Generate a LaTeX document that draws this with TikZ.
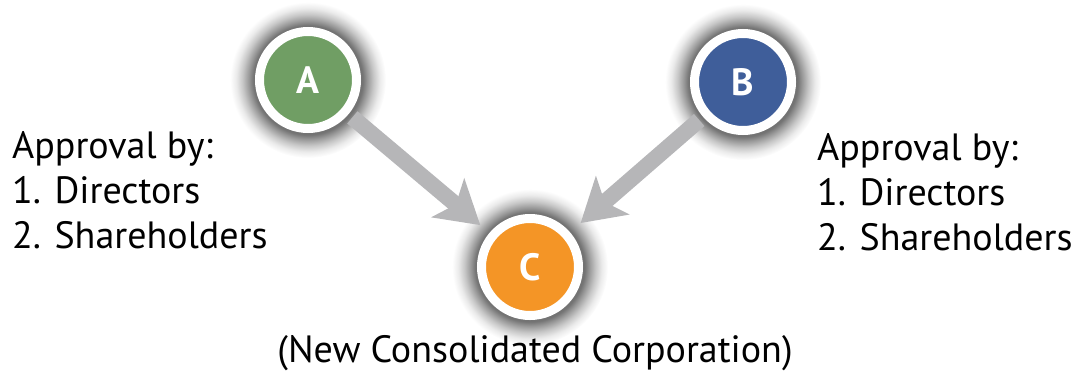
\documentclass[tikz,border=0pt]{standalone}
\usepackage{fontspec}
\setmainfont{PT Sans}
\usetikzlibrary{arrows.meta,backgrounds}

\definecolor{firmgreen}{RGB}{112,158,100}
\definecolor{firmblue}{RGB}{63,94,154}
\definecolor{firmorange}{RGB}{244,149,38}
\definecolor{arrowgray}{RGB}{182,182,184}

% soft grey halo round the firms
\pgfdeclareradialshading{halo}{\pgfpoint{0bp}{0bp}}{color(0bp)=(black!55); color(17.5bp)=(black!55); color(19bp)=(black!40); color(21bp)=(black!22); color(23bp)=(black!8); color(25bp)=(white); color(50bp)=(white)}

\tikzset{
  firm/.style={circle, draw=white, line width=9pt, minimum size=97pt, inner sep=0pt,
    text=white, font=\fontsize{38}{38}\selectfont\bfseries},
  merger/.style={draw=arrowgray, line width=16pt, shorten <=5pt,
    -{Stealth[length=42pt,width=50pt,inset=10pt]}},
  approval/.style={align=left, anchor=base west, inner sep=0pt,
    font=\fontsize{38}{45}\selectfont}
}

\begin{document}
\begin{tikzpicture}[x=1pt,y=-1pt]
    \useasboundingbox (0,0) rectangle (1082,373);

    % Merging firms
    \node[firm, fill=firmgreen] (a) at (308,80) {A};
    \node[firm, fill=firmblue] (b) at (743,82) {B};

    % New firm
    \node[firm, fill=firmorange] (c) at (530,267) {C};

    % Halos
    \begin{pgfonlayer}{background}
        \foreach \f in {a,b,c}
            \shade[shading=halo] (\f) circle[radius=78pt];
    \end{pgfonlayer}

    % Merger arrows
    \draw[merger, shorten >=12pt] (a) -- (c);
    \draw[merger, shorten >=14pt] (b) -- (c);

    % Approvals
    \node[approval] (appa) at (12,248) {Approval by:\\1. Directors\\2. Shareholders};
    \node[approval] (appb) at (817,250) {Approval by:\\1. Directors\\2. Shareholders};
    \node[anchor=base, inner sep=0pt, font=\fontsize{38}{45}\selectfont] (newco) at (535,362) {(New Consolidated Corporation)};
\end{tikzpicture}
\end{document}
